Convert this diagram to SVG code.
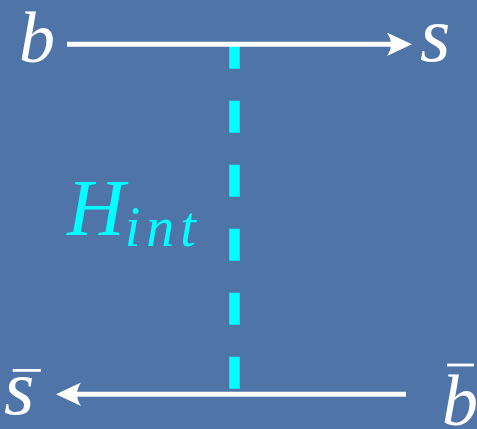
<svg xmlns="http://www.w3.org/2000/svg" width="477" height="429" viewBox="0 0 477 429">
<style>
text{font-family:'Liberation Serif','Times New Roman',serif;font-style:italic;font-size:72px}
.lbl{fill:#ffffff}
.sm{font-size:78px}
.cy{fill:#00ffff;font-size:80px}
.prop{stroke:#ffffff;stroke-width:5;fill:none}
.bar{stroke:#ffffff;stroke-width:2.8}
</style>
<defs>
<marker id="ah" markerUnits="userSpaceOnUse" markerWidth="26" markerHeight="24" viewBox="0 0 26 24" refX="13" refY="11.7" orient="auto">
<path d="M0,0 L25,11.7 L0,23.4 Q8,11.7 0,0 Z" fill="#ffffff"/>
</marker>
</defs>
<rect width="477" height="429" fill="#4e74a8"/>
<g id="connectors">
<line id="interaction" x1="234.5" y1="44.7" x2="234.5" y2="388.7" stroke="#00ffff" stroke-width="10.5" stroke-dasharray="32 32" stroke-dashoffset="8"/>
<line id="b-to-s" class="prop" x1="67" y1="44.3" x2="400" y2="44.3" marker-end="url(#ah)"/>
<line id="bbar-to-sbar" class="prop" x1="406" y1="394.2" x2="68" y2="394.2" marker-end="url(#ah)"/>
</g>
<g id="node-b"><text class="lbl" x="19" y="62">b</text></g>
<g id="node-s"><text class="lbl sm" x="420" y="61">s</text></g>
<g id="node-sbar"><text class="lbl sm" x="4" y="414">s</text><line class="bar" x1="12.7" y1="370.4" x2="41" y2="370.4"/></g>
<g id="node-bbar"><text class="lbl" x="442" y="425">b</text><line class="bar" x1="447" y1="365" x2="474" y2="365"/></g>
<g id="label-hint"><text class="cy" x="67" y="235">H<tspan font-size="56" dy="11" letter-spacing="6">int</tspan></text></g>
</svg>
